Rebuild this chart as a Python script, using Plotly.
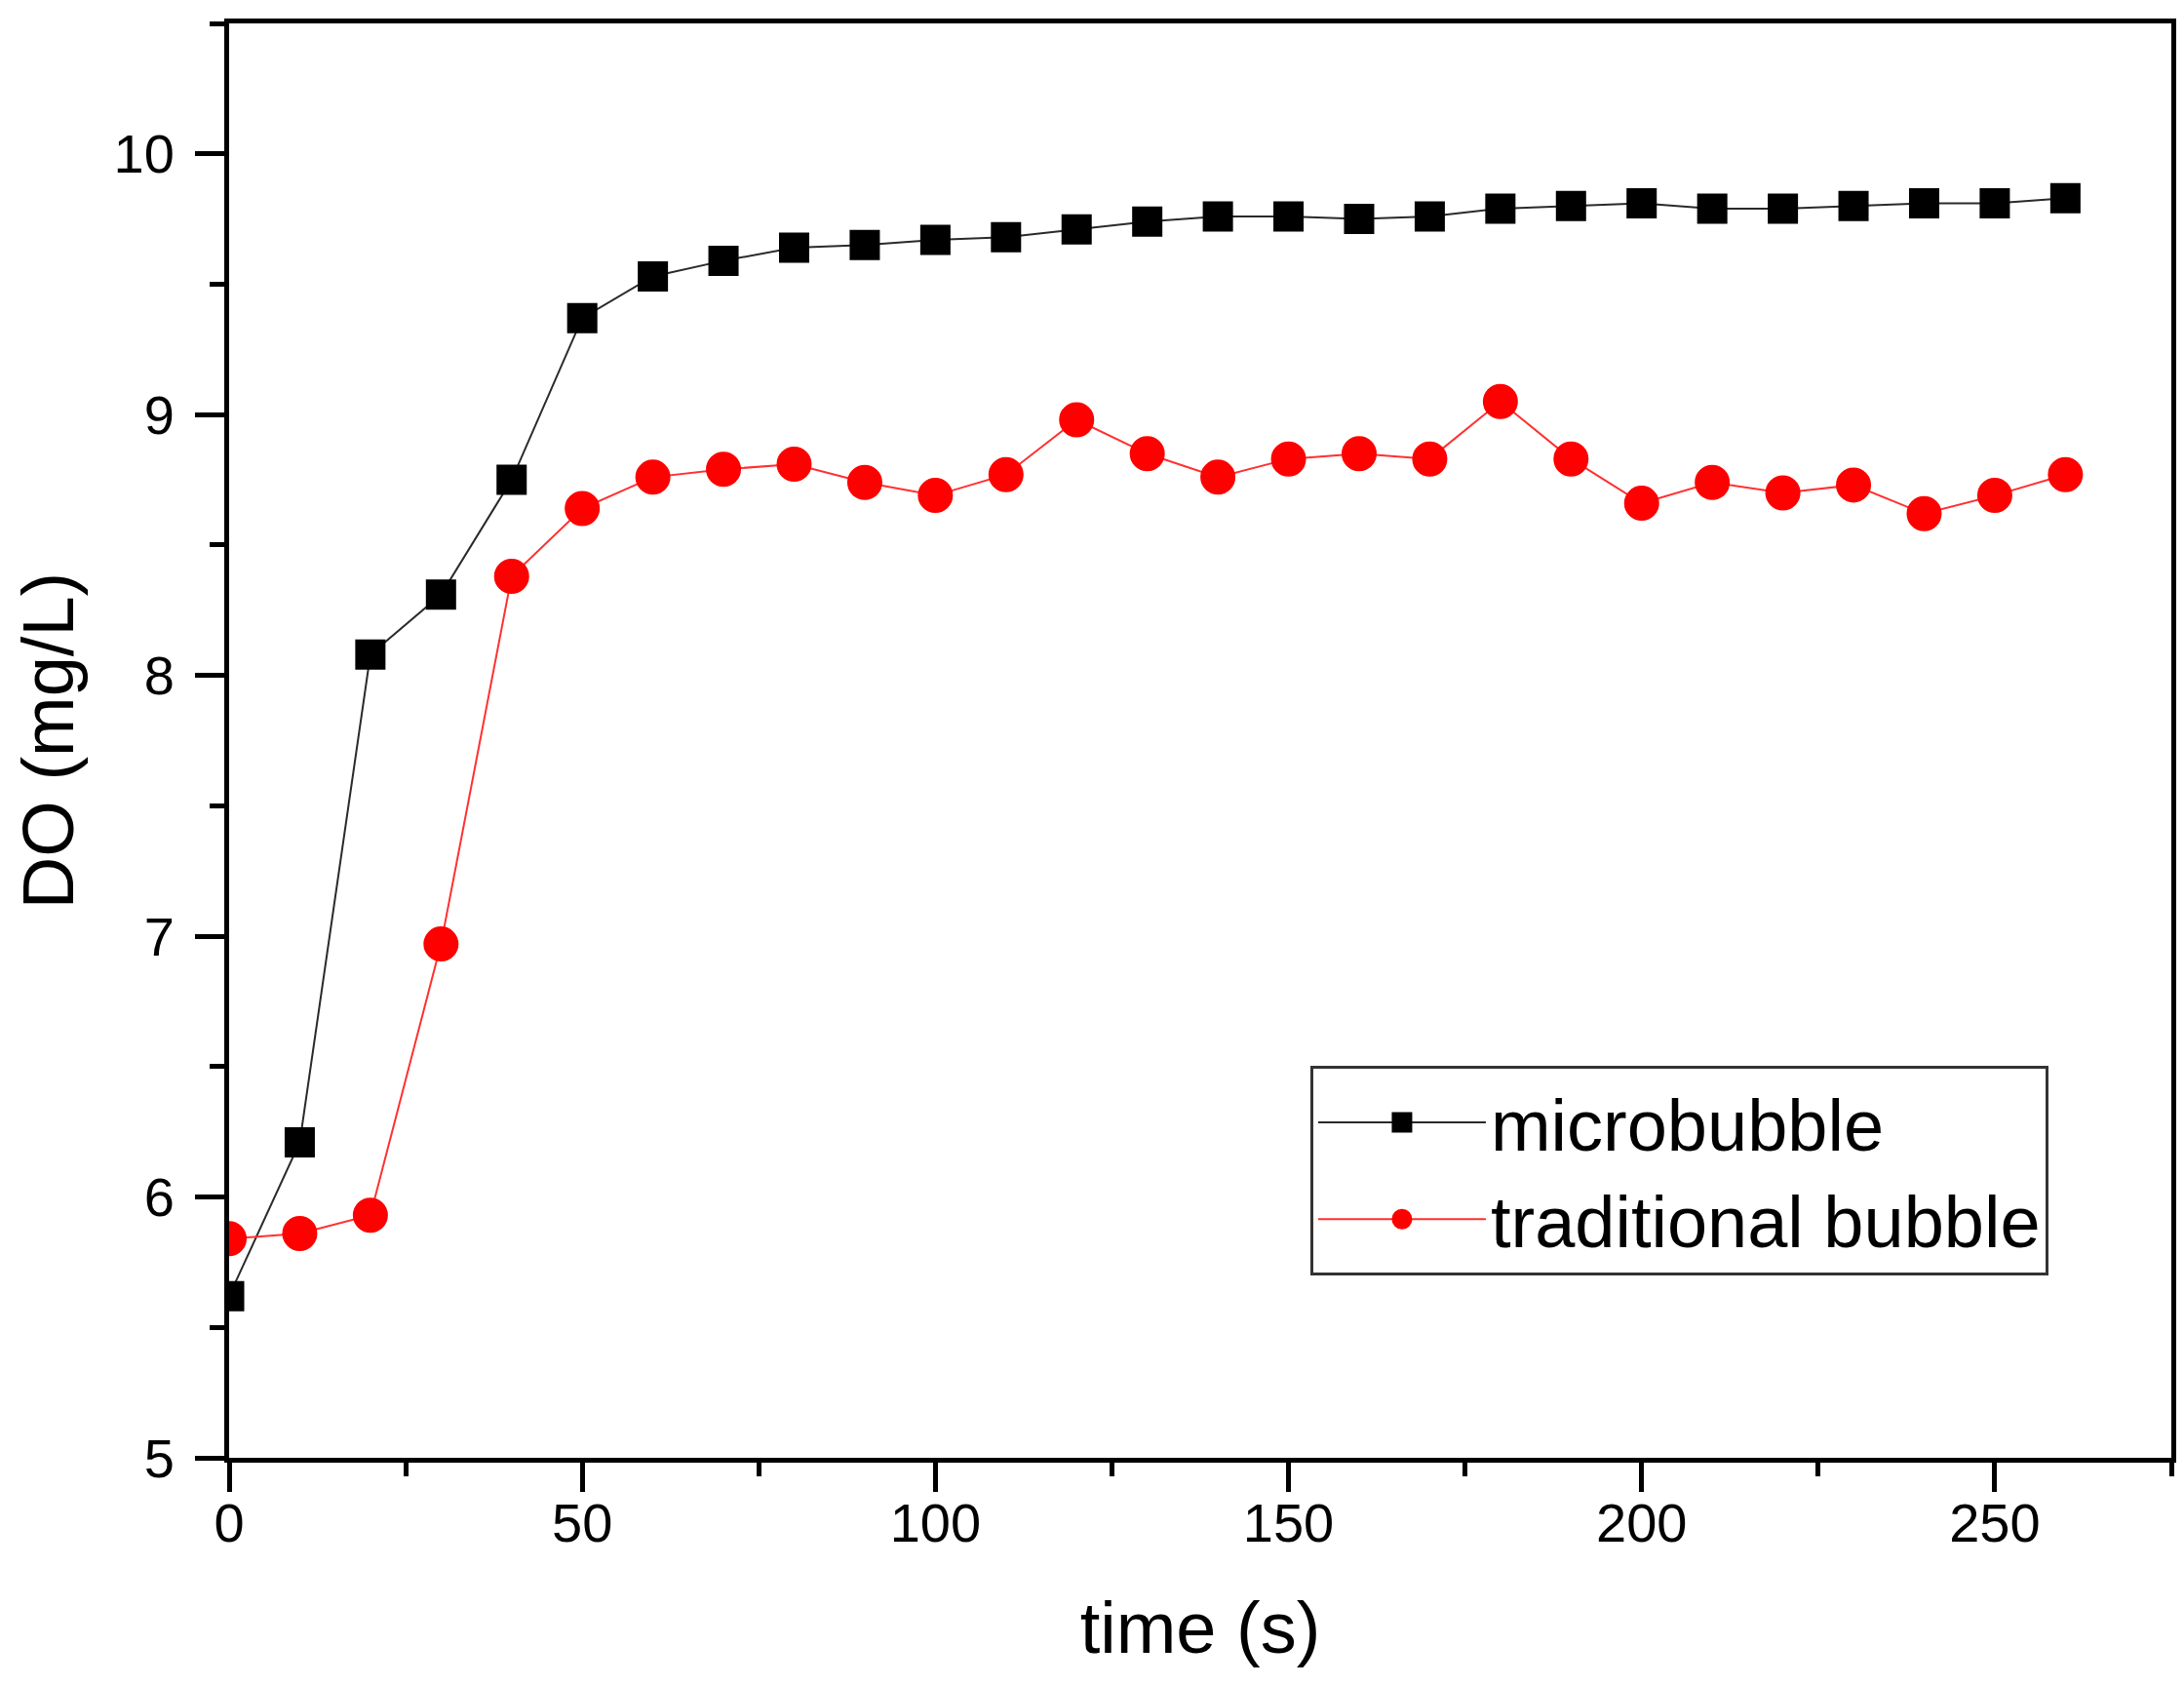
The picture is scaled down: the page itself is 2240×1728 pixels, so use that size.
import plotly.graph_objects as go

# ------------------------------------------------------------
# Data
# ------------------------------------------------------------
time_s = [0, 10, 20, 30, 40, 50, 60, 70, 80, 90, 100, 110, 120, 130,
          140, 150, 160, 170, 180, 190, 200, 210, 220, 230, 240, 250, 260]

do_micro = [5.62, 6.21, 8.08, 8.31, 8.75, 9.37, 9.53, 9.59, 9.64, 9.65,
            9.67, 9.68, 9.71, 9.74, 9.76, 9.76, 9.75, 9.76, 9.79, 9.80,
            9.81, 9.79, 9.79, 9.80, 9.81, 9.81, 9.83]

do_trad = [5.84, 5.86, 5.93, 6.97, 8.38, 8.64, 8.76, 8.79, 8.81, 8.74,
           8.69, 8.77, 8.98, 8.85, 8.76, 8.83, 8.85, 8.83, 9.05, 8.83,
           8.66, 8.74, 8.70, 8.73, 8.62, 8.69, 8.77]

series_names = ["microbubble", "traditional bubble"]

FONT = "Liberation Sans, Arial, sans-serif"

fig = go.Figure()

fig.add_trace(go.Scatter(
    x=time_s, y=do_micro, name=series_names[0],
    mode="lines+markers",
    line=dict(color="#2a2a2a", width=2),
    marker=dict(symbol="square", size=26, color="black",
                line=dict(color="black", width=5)),
))

fig.add_trace(go.Scatter(
    x=time_s, y=do_trad, name=series_names[1],
    mode="lines+markers",
    line=dict(color="#ff3030", width=2),
    marker=dict(symbol="circle", size=31, color="#ff0000",
                line=dict(color="#ff0000", width=5)),
))

axis_common = dict(
    showline=True, linecolor="black", linewidth=5, mirror=True,
    ticks="outside", ticklen=30, tickwidth=5, tickcolor="black",
    showgrid=False, zeroline=False,
    tickfont=dict(family=FONT, size=56, color="black"),
    title_font=dict(family=FONT, size=74, color="black"),
)

fig.update_xaxes(
    **axis_common,
    range=[0, 275], tick0=0, dtick=50, ticklabelstandoff=-16,
    minor=dict(ticks="outside", ticklen=14, tickwidth=5, tickcolor="black", dtick=25),
    title_text="time (s)", title_standoff=52,
)

fig.update_yaxes(
    **axis_common,
    range=[5, 10.5], tick0=5, dtick=1, ticklabelstandoff=10,
    minor=dict(ticks="outside", ticklen=15, tickwidth=5, tickcolor="black", dtick=0.5),
    title_text="DO (mg/L)", title_standoff=30,
)

fig.update_layout(
    width=2240, height=1728,
    margin=dict(l=227, r=21, t=16, b=241),
    plot_bgcolor="white", paper_bgcolor="white",
    font=dict(family=FONT, color="black"),
    legend=dict(
        x=0.5567, y=0.273, xanchor="left", yanchor="top",
        bgcolor="white", bordercolor="#333333", borderwidth=3,
        font=dict(family=FONT, size=74, color="black"),
        itemwidth=172, entrywidth=780,
    ),
)

fig.write_html("out.html")
